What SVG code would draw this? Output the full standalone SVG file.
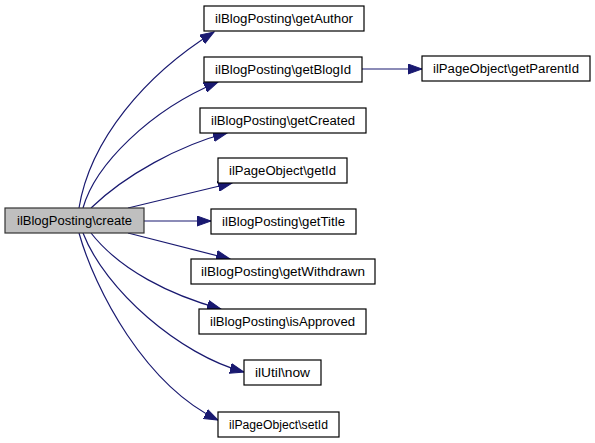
<svg xmlns="http://www.w3.org/2000/svg" width="595" height="443" viewBox="0 0 595 443">
<style>
.n rect{fill:#ffffff;stroke:#000000;stroke-width:1.2}
.n.cur rect{fill:#bfbfbf;stroke:#333333}
.n text{font-family:"Liberation Sans",Arial,sans-serif;font-size:12.5px;fill:#000000;text-anchor:middle}
.e path{fill:none;stroke:#191970;stroke-width:1.2}
</style>
<defs>
<marker id="ah" markerUnits="userSpaceOnUse" markerWidth="15" markerHeight="11" viewBox="0 0 15 11" refX="14" refY="5.5" orient="auto">
<polygon points="0,0.5 14,5.5 0,10.5" fill="#191970" stroke="#191970"/>
</marker>
</defs>
<g class="e">
<path d="M79,208 C90,140 145,75 214,32" marker-end="url(#ah)"/>
<path d="M83,208 C95,165 150,110 218,82" marker-end="url(#ah)"/>
<path d="M91,208 C125,175 180,145 227,133" marker-end="url(#ah)"/>
<path d="M128,208 L232,183" marker-end="url(#ah)"/>
<path d="M144,221 L211,221" marker-end="url(#ah)"/>
<path d="M128,233 L230,259" marker-end="url(#ah)"/>
<path d="M91,233 C120,270 170,295 221,309" marker-end="url(#ah)"/>
<path d="M83,233 C105,290 180,355 244,372" marker-end="url(#ah)"/>
<path d="M79,233 C95,290 145,385 218,420" marker-end="url(#ah)"/>
<path d="M362,69 L422,69" marker-end="url(#ah)"/>
</g>
<g id="create" class="n cur"><rect x="5" y="208" width="139" height="25"/><text x="74.5" y="225" textLength="115" lengthAdjust="spacingAndGlyphs">ilBlogPosting\create</text></g>
<g id="getAuthor" class="n"><rect x="204" y="6" width="160" height="25"/><text x="284" y="23" textLength="138" lengthAdjust="spacingAndGlyphs">ilBlogPosting\getAuthor</text></g>
<g id="getBlogId" class="n"><rect x="204" y="57" width="158" height="25"/><text x="283" y="74" textLength="136" lengthAdjust="spacingAndGlyphs">ilBlogPosting\getBlogId</text></g>
<g id="getCreated" class="n"><rect x="200" y="108" width="166" height="25"/><text x="283" y="125" textLength="144" lengthAdjust="spacingAndGlyphs">ilBlogPosting\getCreated</text></g>
<g id="getId" class="n"><rect x="218" y="158" width="129" height="25"/><text x="282.5" y="175" textLength="107" lengthAdjust="spacingAndGlyphs">ilPageObject\getId</text></g>
<g id="getTitle" class="n"><rect x="211" y="209" width="145" height="25"/><text x="283.5" y="226" textLength="123" lengthAdjust="spacingAndGlyphs">ilBlogPosting\getTitle</text></g>
<g id="getWithdrawn" class="n"><rect x="191" y="259" width="184" height="25"/><text x="283" y="276" textLength="164" lengthAdjust="spacingAndGlyphs">ilBlogPosting\getWithdrawn</text></g>
<g id="isApproved" class="n"><rect x="199" y="309" width="167" height="25"/><text x="282.5" y="326" textLength="145" lengthAdjust="spacingAndGlyphs">ilBlogPosting\isApproved</text></g>
<g id="now" class="n"><rect x="244" y="360" width="77" height="25"/><text x="282.5" y="377" textLength="55" lengthAdjust="spacingAndGlyphs">ilUtil\now</text></g>
<g id="setId" class="n"><rect x="218" y="412" width="121" height="25"/><text x="278.5" y="429" textLength="99" lengthAdjust="spacingAndGlyphs">ilPageObject\setId</text></g>
<g id="getParentId" class="n"><rect x="422" y="56" width="168" height="25"/><text x="506" y="73" textLength="146" lengthAdjust="spacingAndGlyphs">ilPageObject\getParentId</text></g>
</svg>
